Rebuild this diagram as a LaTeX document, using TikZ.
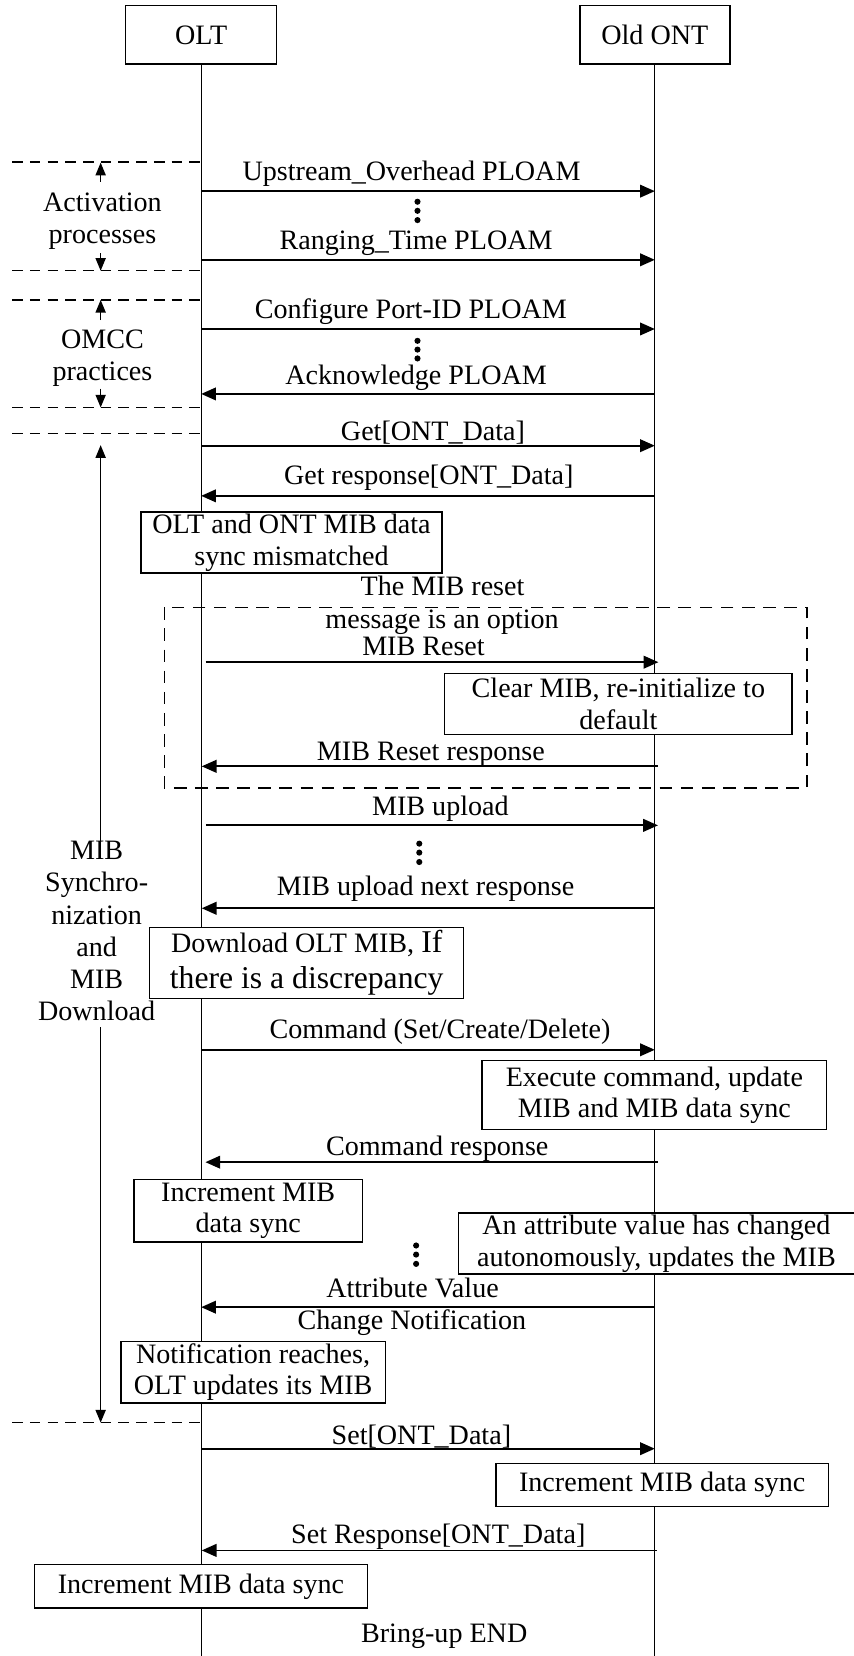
\documentclass[tikz,border=0pt]{standalone}
\usepackage{fontspec}
\setmainfont{Liberation Serif}
\usetikzlibrary{arrows.meta}
\begin{document}
\begin{tikzpicture}[x=0.5pt,y=-0.5pt,
  every node/.style={font=\fontsize{13.3pt}{15pt}\selectfont},
  entity/.style={draw, line width=0.7pt, fill=white, inner sep=0pt, minimum height=27.6pt},
  note/.style={draw, line width=0.7pt, fill=white, align=center, inner sep=0pt},
  life/.style={line width=0.65pt},
  msg/.style={line width=0.85pt, -{Triangle[length=7pt,width=6pt]}},
  span/.style={line width=0.65pt, -{Triangle[length=6pt,width=4.8pt]}},
  sep/.style={line width=0.65pt, dash pattern=on 5pt off 3.4pt},
  optbox/.style={line width=0.65pt, dash pattern=on 6pt off 4pt},
  lbl/.style={anchor=base, inner sep=0pt},
  side/.style={align=center, inner sep=0pt},
  ellip/.style={fill, circle, inner sep=0pt, minimum size=2.9pt}]

\useasboundingbox (0,0) rectangle (808,1568);

% participants and lifelines
\node[entity, minimum width=71.5pt] (olt) at (190.5,33) {OLT};
\node[entity, minimum width=71pt] (ont) at (620,33) {Old ONT};
\coordinate (oltBot) at (190.5,1570);
\coordinate (ontBot) at (620,1570);
\draw[life] (olt.south) -- (oltBot);
\draw[life] (ont.south) -- (ontBot);

% phase separators on the left
\foreach \k/\y in {1/153.5,2/256.4,3/283.9,4/385.8,5/410.5,6/1347}{
  \coordinate (sepL\k) at (11.4,\y);
  \coordinate (sepR\k) at (190.5,\y);
  \draw[sep] (sepL\k) -- (sepR\k);
}

% phase spans
\coordinate (actUpT) at (95.3,172);  \coordinate (actUpH) at (95.3,154);
\coordinate (actDnT) at (95.3,240);  \coordinate (actDnH) at (95.3,256.4);
\coordinate (omcUpT) at (95.3,303);  \coordinate (omcUpH) at (95.3,284);
\coordinate (omcDnT) at (95.3,368);  \coordinate (omcDnH) at (95.3,385.8);
\coordinate (mibUpT) at (95.3,797);  \coordinate (mibUpH) at (95.3,421.5);
\coordinate (mibDnT) at (95.3,972.5);\coordinate (mibDnH) at (95.3,1347);
\draw[span] (actUpT) -- (actUpH);
\draw[span] (actDnT) -- (actDnH);
\draw[span] (omcUpT) -- (omcUpH);
\draw[span] (omcDnT) -- (omcDnH);
\draw[span] (mibUpT) -- (mibUpH);
\draw[span] (mibDnT) -- (mibDnH);

\node[side] (actText) at (97,209.5) {Activation\\processes};
\node[side] (omcText) at (97,339) {OMCC\\practices};
\node[side, font=\fontsize{13.3pt}{15.2pt}\selectfont] (mibText) at (91.5,881.6)
  {MIB\\Synchro-\\nization\\and\\MIB\\Download};

% optional MIB reset region
\draw[optbox] (155.6,575) rectangle (764,746);

% message end points
\foreach \n/\y/\xl/\xr in {1/181/190.5/620, 2/246/190.5/620, 3/311.5/190.5/620,
  4/373/190.5/620, 5/422/190.5/620, 6/469.5/190.5/620, 7/627/194.8/623.4,
  8/725.6/191/623, 9/781.5/195/623, 10/860/191/620, 11/994/190.5/620,
  12/1100.4/194.5/623, 13/1237.7/190.5/620, 14/1371.7/190.5/620, 15/1468/191/622}{
  \coordinate (L\n) at (\xl,\y);
  \coordinate (R\n) at (\xr,\y);
}
\foreach \n in {1,2,3,5,7,9,11,14} \draw[msg] (L\n) -- (R\n);
\foreach \n in {4,6,8,10,12,13,15} \draw[msg] (R\n) -- (L\n);

% message labels
\node[lbl] (t1) at (389.7,170.5) {Upstream\_Overhead PLOAM};
\node[lbl] (t2) at (394,236) {Ranging\_Time PLOAM};
\node[lbl] (t3) at (389,301.6) {Configure Port-ID PLOAM};
\node[lbl] (t4) at (394,363.7) {Acknowledge PLOAM};
\node[lbl] (t5) at (410,417.5) {Get[ONT\_Data]};
\node[lbl] (t6) at (406,458.6) {Get response[ONT\_Data]};
\node[lbl] (t7a) at (419,563.6) {The MIB reset};
\node[lbl] (t7b) at (418.6,595) {message is an option};
\node[lbl] (t7) at (401,620.5) {MIB Reset};
\node[lbl] (t8) at (408,720.5) {MIB Reset response};
\node[lbl] (t9) at (417,772) {MIB upload};
\node[lbl] (t10) at (403,847.8) {MIB upload next response};
\node[lbl] (t11) at (416.6,983) {Command (Set/Create/Delete)};
\node[lbl] (t12) at (414,1094) {Command response};
\node[lbl] (t13) at (390.6,1229) {Attribute Value};
\node[lbl] (t13b) at (390,1259) {Change Notification};
\node[lbl] (t14) at (399,1368) {Set[ONT\_Data]};
\node[lbl] (t15) at (415,1461.7) {Set Response[ONT\_Data]};
\node[lbl] (finish) at (420.6,1555) {Bring-up END};

% ellipsis dots
\foreach \g/\x/\ya/\yb/\yc in {1/395.3/191/199.6/208.4, 2/395.3/322.7/331/339.4,
  3/397/798.8/807.3/816.2, 4/394/1179.3/1187.9/1196.7}{
  \node[ellip] (dot\g a) at (\x,\ya) {};
  \node[ellip] (dot\g b) at (\x,\yb) {};
  \node[ellip] (dot\g c) at (\x,\yc) {};
}

% processing notes
\node[note, minimum width=142.5pt, minimum height=29pt] (mism) at (276,513.7)
  {OLT and ONT MIB data\\sync mismatched};
\node[note, minimum width=164.5pt, minimum height=28.75pt] (clear) at (585.5,666.5)
  {Clear MIB, re-initialize to\\default};
\node[note, minimum width=148.7pt, minimum height=33.7pt,
  font=\fontsize{13.3pt}{17pt}\selectfont] (dl) at (290.4,911.7)
  {Download OLT MIB, {\fontsize{15pt}{17pt}\selectfont If}\\{\fontsize{15pt}{17pt}\selectfont there is a discrepancy}};
\node[note, minimum width=163pt, minimum height=32.7pt] (exec) at (619.6,1037)
  {Execute command, update\\MIB and MIB data sync};
\node[note, minimum width=108pt, minimum height=29.6pt] (inc1) at (235,1146.6)
  {Increment MIB\\data sync};
\node[note, minimum width=187.5pt, minimum height=28.7pt] (attr) at (621.5,1177.4)
  {An attribute value has changed\\autonomously, updates the MIB};
\node[note, minimum width=125.3pt, minimum height=29.35pt] (notif) at (239.7,1299.3)
  {Notification reaches,\\OLT updates its MIB};
\node[note, minimum width=157.5pt, minimum height=20.5pt] (inc2) at (627,1406)
  {Increment MIB data sync};
\node[note, minimum width=157.75pt, minimum height=20.6pt] (inc3) at (190.3,1502)
  {Increment MIB data sync};

\end{tikzpicture}
\end{document}
